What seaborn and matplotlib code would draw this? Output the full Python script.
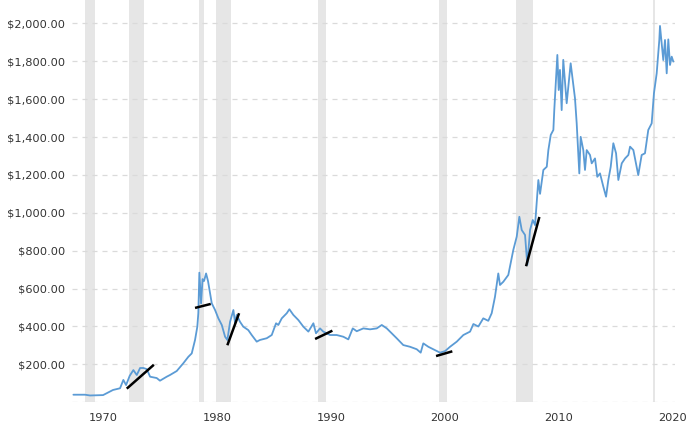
import matplotlib
matplotlib.use("Agg")
import matplotlib.pyplot as plt
import seaborn as sns
import pandas as pd

# ---- data ----
years = [1967.35, 1968.37, 1968.81, 1969.96, 1970.83, 1971.45, 1971.74, 1971.98,
         1972.30, 1972.62, 1972.92, 1973.21, 1973.50, 1973.80, 1974.09, 1974.67,
         1974.96, 1975.55, 1975.84, 1976.43, 1977.01, 1977.45, 1977.75, 1978.04,
         1978.24, 1978.33, 1978.42, 1978.57, 1978.70, 1978.83, 1979.01, 1979.18,
         1979.36, 1979.51, 1979.80, 1980.09, 1980.39, 1980.68, 1980.88, 1981.12,
         1981.41, 1981.56, 1981.70, 1981.99, 1982.28, 1982.72, 1983.02, 1983.46,
         1983.75, 1984.34, 1984.78, 1985.16, 1985.36, 1985.66, 1986.10, 1986.33,
         1986.68, 1987.12, 1987.56, 1988.00, 1988.44, 1988.67, 1989.02, 1989.31,
         1989.90, 1990.49, 1991.07, 1991.51, 1991.90, 1992.25, 1992.83, 1993.42,
         1994.01, 1994.45, 1994.89, 1995.33, 1995.76, 1996.34, 1996.93, 1997.52,
         1997.87, 1998.10, 1998.54, 1998.98, 1999.57, 2000.01, 2000.45, 2001.04,
         2001.62, 2002.21, 2002.50, 2002.94, 2003.37, 2003.81, 2004.11, 2004.40,
         2004.69, 2004.84, 2005.13, 2005.57, 2006.01, 2006.31, 2006.54, 2006.75,
         2007.04, 2007.24, 2007.48, 2007.72, 2007.92, 2008.21, 2008.36, 2008.65,
         2008.95, 2009.09, 2009.30, 2009.53, 2009.61, 2009.88, 2010.00, 2010.11,
         2010.26, 2010.40, 2010.70, 2011.05, 2011.43, 2011.58, 2011.81, 2011.93,
         2012.16, 2012.31, 2012.46, 2012.75, 2012.90, 2013.19, 2013.39, 2013.63,
         2013.92, 2014.16, 2014.36, 2014.57, 2014.80, 2015.04, 2015.24, 2015.54,
         2015.83, 2016.12, 2016.27, 2016.56, 2016.85, 2016.99, 2017.29, 2017.58,
         2017.87, 2018.17, 2018.37, 2018.61, 2018.84, 2018.90, 2019.19, 2019.34,
         2019.49, 2019.63, 2019.78, 2019.93, 2020.07]
prices = [40, 40, 36, 38, 65, 74, 118, 91,
          140, 170, 144, 181, 181, 175, 135, 128,
          114, 135, 144, 165, 206, 240, 258, 329,
          399, 471, 684, 522, 650, 640, 680, 640,
          575, 522, 487, 443, 408, 346, 329, 425,
          487, 417, 461, 425, 399, 381, 355, 320,
          329, 338, 355, 417, 408, 443, 470, 491,
          461, 434, 399, 373, 417, 364, 390, 373,
          355, 355, 346, 332, 390, 375, 390, 385,
          390, 408, 390, 364, 338, 302, 293, 280,
          262, 311, 293, 280, 262, 270, 293, 320,
          355, 373, 413, 400, 443, 430, 470, 557,
          680, 619, 636, 672, 804, 874, 979, 909,
          883, 725, 909, 962, 935, 1173, 1100, 1226,
          1243, 1331, 1411, 1437, 1542, 1833, 1648, 1754,
          1542, 1807, 1578, 1789, 1604, 1472, 1208, 1401,
          1331, 1226, 1331, 1305, 1261, 1287, 1190, 1208,
          1138, 1085, 1173, 1243, 1367, 1314, 1173, 1261,
          1287, 1305, 1349, 1331, 1243, 1199, 1305, 1314,
          1437, 1472, 1631, 1736, 1912, 1986, 1806, 1912,
          1736, 1915, 1780, 1824, 1798]

recession_start = [1968.37, 1972.24, 1978.39, 1979.89, 1988.88, 1999.51, 2006.27, 2018.31]
recession_end = [1969.25, 1973.56, 1978.86, 1981.20, 1989.53, 2000.16, 2007.73, 2018.49]

trend_x0 = [1972.04, 1978.04, 1980.88, 1988.59, 1999.22, 2007.13]
trend_y0 = [72, 498, 301, 334, 244, 718]
trend_x1 = [1974.42, 1979.42, 1981.91, 1990.11, 2000.65, 2008.30]
trend_y1 = [198, 519, 470, 378, 269, 978]

x_ticks = [1970, 1980, 1990, 2000, 2010, 2020]
y_ticks = [200, 400, 600, 800, 1000, 1200, 1400, 1600, 1800, 2000]

df = pd.DataFrame({"year": years, "price": prices})

sns.set_style("white")
plt.rcParams["font.family"] = ["DejaVu Sans"]

fig = plt.figure(figsize=(7.0, 4.24), dpi=100)
ax = fig.add_axes([0.1029, 0.0512, 0.8614, 0.9488])

for s, e in zip(recession_start, recession_end):
    ax.axvspan(s, e, color="#e6e6e6", lw=0, zorder=0)

for yv in [0] + y_ticks:
    ax.axhline(yv, color="#dadada", lw=0.9, ls=(0, (4, 4)), zorder=1)

sns.lineplot(data=df, x="year", y="price", ax=ax, color="#5b9bd5", lw=1.3, zorder=3)

for a, b, c, d in zip(trend_x0, trend_y0, trend_x1, trend_y1):
    ax.plot([a, c], [b, d], color="black", lw=1.8, solid_capstyle="butt", zorder=4)

ax.set_xlim(1967.23, 2020.22)
ax.set_ylim(0, 2123)
ax.set_xticks(x_ticks)
ax.set_xticklabels([str(v) for v in x_ticks])
ax.set_yticks(y_ticks)
ax.set_yticklabels([f"${v:,.2f}" for v in y_ticks])
ax.tick_params(axis="both", length=0, labelsize=8.2, colors="#333333")
ax.tick_params(axis="y", pad=5)
ax.tick_params(axis="x", pad=8)
ax.set_xlabel("")
ax.set_ylabel("")
for sp in ax.spines.values():
    sp.set_visible(False)

fig.savefig("out.png", dpi=100)
